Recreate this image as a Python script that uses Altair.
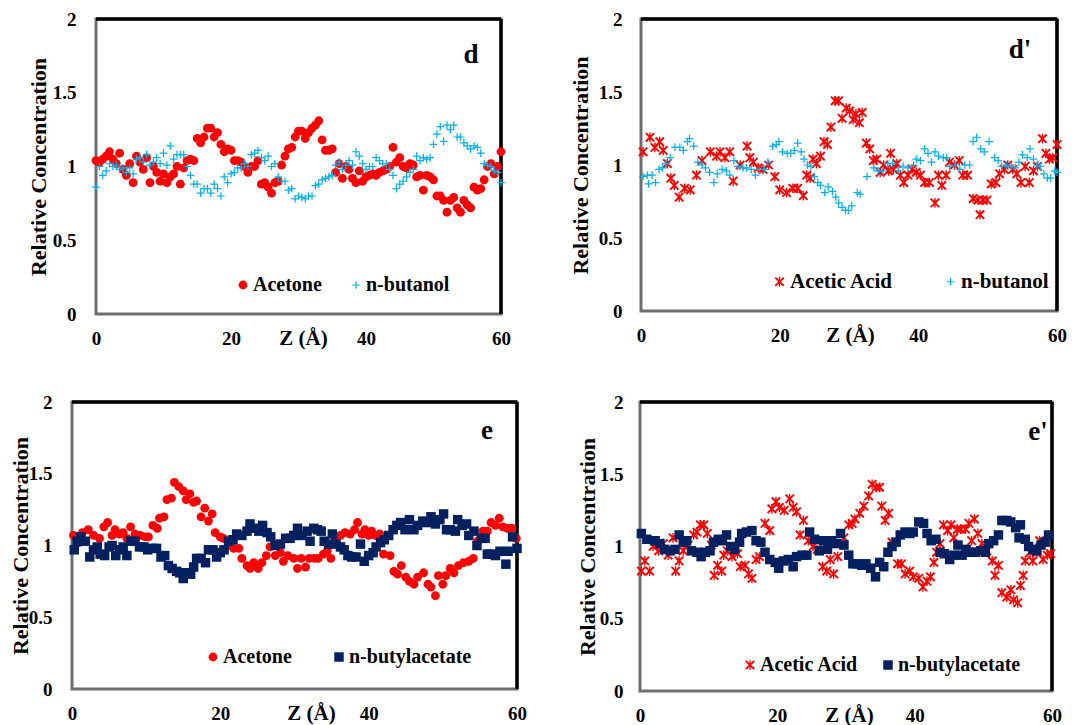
import altair as alt
import pandas as pd

FONT = "Liberation Serif"
RED = "#FF0000"
BLUE = "#00B0F0"
NAVY = "#002060"

PLUS = ("M-0.16,-1L0.16,-1L0.16,-0.16L1,-0.16L1,0.16L0.16,0.16L0.16,1L-0.16,1"
        "L-0.16,0.16L-1,0.16L-1,-0.16L-0.16,-0.16Z")
STAR = ("M-1,-0.72L-0.72,-1L0,-0.28L0.72,-1L1,-0.72L0.28,0L1,0.72L0.72,1L0,0.28"
        "L-0.72,1L-1,0.72L-0.28,0Z M-0.14,-1L0.14,-1L0.14,1L-0.14,1Z")

# ---------------- panel d : Acetone / n-butanol ----------------
d_z = [i * 0.5 for i in range(121)]
d_acetone = [
    1.04, 1.03, 1.05, 1.07, 1.10, 1.05, 1.02, 1.09, 0.98, 0.94,
    1.02, 0.89, 1.07, 1.03, 0.98, 1.06, 0.89, 1.00, 0.96, 0.90,
    0.95, 0.89, 0.93, 0.95, 1.00, 0.88, 0.99, 1.04, 1.05, 1.04,
    1.19, 1.16, 1.20, 1.26, 1.26, 1.20, 1.23, 1.15, 1.10, 1.12,
    1.11, 1.04, 1.04, 1.03, 1.00, 0.96, 1.00, 1.00, 1.04, 0.88,
    0.89, 0.86, 0.82, 0.89, 0.90, 1.01, 1.07, 1.12, 1.13, 1.20,
    1.24, 1.24, 1.19, 1.23, 1.26, 1.28, 1.31, 1.18, 1.11, 1.11,
    1.12, 0.96, 1.02, 0.92, 1.00, 0.98, 0.92, 0.89, 0.97, 0.90,
    0.93, 0.94, 0.95, 0.94, 0.96, 0.97, 0.98, 1.00, 1.13, 1.03,
    1.06, 1.00, 0.99, 1.02, 1.01, 0.93, 0.94, 0.84, 0.94, 0.93,
    0.91, 0.80, 0.80, 0.77, 0.69, 0.77, 0.79, 0.72, 0.69, 0.77,
    0.74, 0.72, 0.86, 0.84, 0.85, 0.91, 1.00, 1.02, 0.95, 1.00,
    1.10]
d_butanol = [
    0.86, 1.00, 0.94, 0.97, 1.02, 1.00, 1.01, 0.98, 0.99, 0.96,
    0.99, 0.95, 1.05, 1.06, 1.03, 1.08, 1.01, 1.03, 1.06, 1.02,
    1.09, 1.01, 1.14, 1.05, 1.08, 1.08, 1.08, 1.00, 0.94, 0.88,
    0.88, 0.82, 0.85, 0.85, 0.82, 0.88, 0.85, 0.80, 0.93, 0.89,
    0.95, 0.96, 0.99, 0.99, 1.02, 1.00, 1.08, 1.09, 1.11, 1.06,
    1.04, 1.07, 1.00, 1.02, 0.93, 0.90, 0.90, 0.84, 0.85, 0.78,
    0.80, 0.79, 0.78, 0.80, 0.80, 0.87, 0.88, 0.91, 0.92, 0.93,
    0.94, 1.01, 1.03, 0.98, 1.01, 1.04, 1.01, 1.10, 1.07, 1.02,
    0.98, 1.00, 1.00, 1.06, 1.04, 1.02, 1.02, 0.98, 0.94, 0.85,
    0.88, 0.90, 0.93, 0.96, 0.98, 1.07, 1.04, 1.06, 1.05, 1.06,
    1.15, 1.22, 1.27, 1.17, 1.28, 1.25, 1.28, 1.20, 1.20, 1.16,
    1.14, 1.12, 1.14, 1.13, 1.09, 1.02, 1.01, 1.00, 0.97, 0.96,
    0.89]

# ---------------- panel d' : Acetic Acid / n-butanol ----------------
dp_acid_z = [
    0.3, 1.3, 2.0, 2.7, 3.2, 3.8, 4.3, 4.8, 5.5, 6.3,
    7.1, 8.0, 8.8, 10.0, 10.9, 11.4, 12.1, 12.8, 13.3, 14.3,
    15.3, 15.7, 16.2, 16.9, 17.6, 18.4, 19.3, 20.0, 21.0, 21.9,
    22.6, 23.4, 23.9, 24.4, 24.8, 25.3, 25.9, 26.4, 26.9, 27.4,
    28.0, 28.5, 29.0, 29.6, 30.1, 30.6, 31.0, 31.5, 31.9, 32.5,
    33.0, 33.5, 34.0, 34.5, 35.0, 35.7, 36.0, 36.4, 36.9, 37.4,
    37.9, 38.5, 39.1, 39.7, 40.3, 40.9, 41.6, 42.4, 42.9, 43.4,
    44.0, 44.5, 45.2, 45.9, 46.4, 47.1, 47.9, 48.6, 48.9, 49.3,
    49.9, 50.5, 51.2, 51.7, 52.4, 52.9, 53.6, 54.2, 54.8, 55.4,
    56.0, 56.6, 57.2, 57.9, 58.4, 58.9, 59.4, 60.0]
dp_acid = [
    1.09, 1.19, 1.12, 1.16, 1.10, 1.01, 0.91, 0.86, 0.78, 0.84,
    0.83, 0.93, 1.03, 1.09, 1.06, 1.09, 1.05, 1.09, 0.89, 1.00,
    1.13, 1.05, 1.02, 0.98, 0.97, 1.00, 0.92, 0.83, 0.81, 0.84,
    0.84, 0.79, 0.93, 0.91, 1.04, 1.01, 1.06, 1.16, 1.14, 1.26,
    1.44, 1.44, 1.32, 1.39, 1.37, 1.31, 1.35, 1.29, 1.36, 1.15,
    1.11, 1.03, 1.04, 0.95, 1.00, 0.96, 1.08, 0.97, 1.01, 0.93,
    0.88, 0.93, 0.97, 0.95, 0.93, 0.88, 0.88, 0.74, 0.93, 0.86,
    0.93, 1.02, 1.00, 1.03, 0.93, 0.93, 0.77, 0.76, 0.66, 0.76,
    0.76, 0.87, 0.88, 0.94, 0.97, 1.00, 0.97, 0.94, 0.88, 0.99,
    0.88, 0.96, 0.99, 1.18, 1.08, 1.04, 1.05, 1.14]
dp_butanol_z = [
    0.3, 0.9, 1.1, 1.6, 2.1, 2.6, 3.1, 3.6, 4.2, 4.9,
    5.6, 6.1, 6.7, 7.0, 7.6, 8.2, 8.8, 9.3, 9.9, 10.5,
    11.0, 11.7, 12.3, 12.8, 13.4, 14.0, 14.7, 15.2, 15.9, 16.5,
    17.1, 17.8, 18.3, 19.0, 19.5, 19.9, 20.4, 21.1, 21.6, 22.1,
    22.6, 23.1, 23.5, 24.0, 24.5, 25.0, 25.5, 25.9, 26.5, 27.0,
    27.6, 28.1, 28.5, 29.0, 29.5, 29.9, 30.4, 31.2, 31.6, 32.6,
    33.6, 34.2, 34.9, 35.6, 36.3, 37.1, 37.8, 38.5, 39.3, 39.7,
    40.3, 40.9, 41.4, 41.9, 42.4, 42.9, 43.6, 44.1, 44.5, 45.3,
    46.0, 46.7, 47.4, 47.9, 48.4, 49.0, 49.5, 50.2, 51.0, 51.5,
    52.0, 52.7, 53.4, 54.0, 54.5, 55.0, 55.7, 56.1, 56.6, 57.1,
    57.6, 58.1, 58.6, 59.1, 59.7, 60.0]
dp_butanol = [
    0.92, 0.93, 0.87, 0.93, 0.88, 0.97, 0.98, 1.01, 1.05, 1.12,
    1.12, 1.10, 1.16, 1.18, 1.13, 1.02, 1.00, 0.98, 0.95, 0.88,
    0.94, 0.97, 0.96, 0.93, 1.03, 0.99, 0.98, 0.98, 0.97, 0.93,
    0.97, 0.97, 1.02, 1.13, 1.14, 1.16, 1.09, 1.08, 1.08, 1.10,
    1.15, 1.09, 1.04, 1.00, 0.99, 0.92, 0.88, 0.86, 0.81, 0.85,
    0.82, 0.78, 0.74, 0.71, 0.69, 0.69, 0.72, 0.81, 0.80, 0.92,
    0.98, 0.96, 0.96, 1.01, 1.01, 0.96, 0.99, 0.98, 1.00, 1.04,
    1.03, 1.11, 1.08, 1.02, 1.09, 1.06, 1.05, 1.05, 0.99, 1.00,
    0.97, 1.00, 1.00, 1.16, 1.19, 1.11, 1.09, 1.16, 1.05, 1.03,
    0.99, 1.00, 0.99, 0.98, 1.02, 1.07, 1.05, 1.11, 1.04, 1.00,
    0.99, 0.94, 0.91, 0.91, 0.96, 0.95]

# ---------------- panel e : Acetone / n-butylacetate ----------------
e_acetone_z = [
    0.2, 0.9, 1.4, 2.2, 2.9, 3.7, 4.3, 4.8, 5.4, 5.8,
    6.4, 6.9, 7.4, 7.9, 8.5, 9.2, 9.9, 10.3, 10.9, 11.5,
    11.8, 12.4, 12.8, 13.4, 13.8, 14.4, 15.0, 15.4, 15.9, 16.4,
    16.8, 17.4, 17.9, 18.4, 18.9, 19.3, 20.0, 20.4, 21.1, 21.8,
    22.5, 22.9, 23.6, 24.0, 24.5, 25.1, 25.6, 26.2, 26.7, 27.4,
    28.1, 28.5, 29.1, 29.9, 30.4, 30.9, 31.5, 32.0, 32.7, 33.2,
    33.9, 34.4, 34.9, 35.5, 36.2, 36.8, 37.5, 38.1, 38.5, 39.1,
    39.5, 40.0, 40.4, 40.9, 41.5, 42.0, 42.9, 43.4, 43.9, 44.4,
    45.0, 45.5, 46.1, 46.6, 47.4, 48.0, 48.4, 49.0, 49.4, 50.0,
    50.4, 51.0, 51.5, 52.1, 52.8, 53.5, 54.1, 54.7, 55.4, 56.0,
    56.5, 57.1, 57.6, 58.1, 58.7, 59.3, 59.9]
e_acetone = [
    1.07, 1.02, 1.09, 1.11, 1.07, 1.05, 1.13, 1.16, 1.07, 1.11,
    1.08, 1.09, 1.05, 1.13, 1.08, 1.07, 1.06, 1.06, 1.14, 1.12,
    1.19, 1.20, 1.32, 1.33, 1.44, 1.41, 1.38, 1.32, 1.36, 1.30,
    1.31, 1.20, 1.26, 1.17, 1.22, 1.09, 1.06, 1.05, 1.00, 0.98,
    0.98, 0.91, 0.86, 0.84, 0.88, 0.84, 0.88, 0.93, 0.99, 0.93,
    0.95, 0.89, 0.93, 0.91, 0.84, 0.91, 0.85, 0.91, 0.91, 0.91,
    0.94, 0.96, 0.91, 1.05, 1.07, 1.09, 1.08, 1.11, 1.16, 1.08,
    1.11, 1.07, 1.10, 1.07, 1.08, 0.94, 0.93, 0.82, 0.80, 0.86,
    0.78, 0.75, 0.73, 0.78, 0.81, 0.73, 0.71, 0.65, 0.79, 0.73,
    0.79, 0.84, 0.81, 0.86, 0.88, 0.89, 0.91, 1.03, 1.10, 1.10,
    1.16, 1.14, 1.19, 1.13, 1.12, 1.12, 1.05]
e_bac_z = [
    0.3, 0.7, 1.2, 1.8, 2.4, 2.9, 3.4, 3.8, 4.4, 5.0,
    5.4, 5.9, 6.4, 6.9, 7.4, 7.9, 8.5, 9.1, 9.7, 10.2,
    10.8, 11.4, 12.0, 12.5, 13.0, 13.5, 14.1, 14.5, 15.0, 15.4,
    16.0, 16.4, 16.8, 17.4, 18.0, 18.4, 19.0, 19.5, 20.0, 20.5,
    21.1, 21.7, 22.2, 22.9, 23.6, 24.0, 24.5, 25.2, 25.7, 26.3,
    26.8, 27.4, 28.1, 28.8, 29.4, 29.9, 30.4, 31.0, 31.7, 32.1,
    32.6, 33.1, 33.6, 34.0, 34.6, 35.1, 35.6, 36.2, 36.7, 37.2,
    37.7, 38.3, 38.9, 39.4, 40.0, 40.6, 41.0, 41.6, 42.1, 42.7,
    43.3, 43.8, 44.3, 44.9, 45.5, 46.1, 46.6, 47.3, 47.8, 48.4,
    49.0, 49.6, 50.1, 50.5, 51.0, 51.7, 52.0, 52.6, 53.2, 53.5,
    54.2, 54.6, 55.2, 55.7, 56.0, 56.5, 57.1, 57.7, 58.5, 58.8,
    59.4, 60.0]
e_bac = [
    0.97, 1.03, 1.06, 1.03, 0.92, 0.97, 0.99, 0.94, 0.93, 0.99,
    1.00, 0.93, 0.97, 0.99, 0.93, 1.03, 1.03, 0.99, 0.99, 0.97,
    0.98, 0.98, 0.92, 0.93, 0.86, 0.84, 0.82, 0.81, 0.77, 0.81,
    0.80, 0.85, 0.91, 0.91, 0.88, 0.97, 0.97, 0.92, 0.95, 0.97,
    1.03, 1.04, 1.08, 1.07, 1.10, 1.15, 1.12, 1.10, 1.14, 1.09,
    1.06, 1.00, 1.01, 1.05, 1.05, 1.07, 1.12, 1.07, 1.10, 1.03,
    1.12, 1.11, 1.10, 1.03, 1.01, 1.08, 1.01, 0.99, 0.97, 0.93,
    0.92, 0.92, 1.01, 0.89, 0.93, 0.95, 0.99, 1.02, 1.04, 1.07,
    1.11, 1.14, 1.16, 1.11, 1.18, 1.11, 1.14, 1.17, 1.16, 1.20,
    1.15, 1.18, 1.22, 1.11, 1.11, 1.10, 1.18, 1.14, 1.15, 1.07,
    1.10, 1.00, 1.05, 1.05, 0.94, 0.94, 0.93, 0.96, 0.87, 0.96,
    1.06, 0.98]

# ---------------- panel e' : Acetic Acid / n-butylacetate ----------------
ep_acid_z = [
    0.2, 0.7, 1.4, 1.9, 2.7, 3.4, 4.1, 4.8, 5.2, 5.7,
    6.3, 7.0, 7.8, 8.3, 8.8, 9.3, 9.8, 10.4, 10.8, 11.3,
    11.9, 12.2, 12.7, 13.4, 14.2, 14.6, 15.3, 15.8, 16.3, 16.9,
    17.4, 18.2, 18.9, 19.2, 19.8, 20.3, 21.0, 21.8, 22.3, 22.8,
    23.3, 23.8, 24.5, 25.2, 25.8, 26.6, 27.2, 27.7, 28.2, 28.8,
    29.7, 30.4, 30.9, 31.3, 32.0, 32.6, 33.3, 33.8, 34.4, 34.9,
    35.2, 35.7, 36.2, 36.7, 37.5, 38.1, 38.6, 39.3, 39.8, 40.6,
    41.2, 41.8, 42.3, 42.8, 43.2, 43.7, 44.2, 44.8, 45.3, 45.7,
    46.2, 46.7, 47.4, 47.9, 48.3, 48.7, 49.2, 49.8, 50.5, 51.3,
    51.7, 52.2, 52.7, 53.4, 54.0, 54.4, 55.0, 55.4, 55.8, 56.1,
    56.8, 57.2, 57.8, 58.2, 58.7, 59.3, 59.8]
ep_acid = [
    0.83, 0.90, 0.83, 1.00, 0.97, 1.02, 0.94, 1.06, 0.83, 0.90,
    0.97, 1.01, 1.08, 1.10, 1.15, 1.15, 1.09, 1.01, 0.80, 0.87,
    0.83, 0.94, 0.97, 0.93, 0.95, 0.86, 0.87, 0.81, 0.78, 0.91,
    0.93, 1.16, 1.11, 1.26, 1.31, 1.27, 1.25, 1.33, 1.27, 1.24,
    1.08, 1.18, 1.04, 1.00, 0.98, 0.86, 0.83, 0.91, 0.81, 0.93,
    1.06, 1.15, 1.16, 1.19, 1.23, 1.28, 1.35, 1.43, 1.41, 1.41,
    1.28, 1.18, 1.23, 1.03, 0.88, 0.88, 0.81, 0.83, 0.79, 0.78,
    0.72, 0.76, 0.79, 0.89, 0.96, 1.02, 1.15, 1.11, 1.15, 1.06,
    1.12, 1.12, 1.12, 1.16, 1.04, 1.19, 1.09, 1.02, 0.97, 0.90,
    0.80, 0.87, 0.68, 0.65, 0.70, 0.63, 0.61, 0.73, 0.80, 0.90,
    0.96, 0.90, 0.96, 1.04, 0.91, 0.94, 0.95]
ep_bac_z = [
    0.2, 1.0, 2.2, 2.9, 3.6, 4.4, 5.1, 5.7, 6.3, 6.8,
    7.5, 8.3, 8.9, 9.5, 10.2, 10.7, 11.4, 12.0, 12.6, 13.2,
    13.8, 14.5, 14.8, 15.5, 16.3, 16.9, 17.6, 18.2, 18.9, 19.7,
    20.2, 20.9, 21.6, 22.3, 22.8, 23.6, 24.3, 24.7, 25.4, 26.1,
    26.7, 27.3, 27.9, 28.6, 29.2, 29.7, 30.4, 31.0, 31.7, 32.3,
    32.9, 33.6, 34.3, 34.9, 35.5, 36.1, 36.7, 37.3, 37.9, 38.6,
    39.3, 39.8, 40.6, 41.3, 41.8, 42.4, 43.1, 43.7, 44.3, 45.1,
    45.7, 46.3, 46.9, 47.5, 48.1, 48.8, 49.6, 50.3, 50.8, 51.5,
    52.2, 52.7, 53.4, 54.0, 54.7, 55.2, 55.4, 56.1, 56.6, 57.2,
    57.8, 58.4, 59.0, 59.5]
ep_bac = [
    1.09, 1.05, 1.04, 1.02, 0.98, 0.97, 0.98, 1.08, 1.03, 1.04,
    0.97, 0.96, 0.93, 0.96, 0.97, 1.03, 1.05, 1.04, 1.08, 1.00,
    0.98, 1.03, 1.09, 1.10, 1.11, 1.04, 1.03, 0.96, 0.91, 0.89,
    0.85, 0.90, 0.91, 0.86, 0.93, 0.94, 0.94, 1.10, 1.05, 0.97,
    1.04, 0.98, 1.04, 1.02, 1.09, 1.01, 0.94, 0.88, 0.88, 0.87,
    0.88, 0.85, 0.79, 0.89, 0.86, 0.96, 1.00, 1.03, 1.08, 1.10,
    1.09, 1.10, 1.17, 1.16, 1.09, 1.04, 1.05, 0.96, 0.95, 0.91,
    0.94, 1.01, 0.94, 0.98, 0.96, 0.96, 0.97, 0.96, 1.02, 1.04,
    1.08, 1.18, 1.18, 1.17, 1.13, 1.06, 1.15, 1.05, 1.00, 0.98,
    0.97, 1.01, 1.03, 1.08]

X_TICKS = [0, 20, 40, 60]
Y_TICKS = [0, 0.5, 1, 1.5, 2]
X_DOMAIN = [0, 60]
Y_DOMAIN = [0, 2]


def panel(letter, s1, s2, vw, vh, xr, yr, yoff, xoff, ylab_pad, ytitle_x,
          ztitle_x, leg_x, leg_y, leg_pad, leg_fs, let_x, let_y):
    n1, z1, v1, c1, sh1, sz1 = s1
    n2, z2, v2, c2, sh2, sz2 = s2
    df = pd.DataFrame({
        "z": list(z1) + list(z2),
        "c": list(v1) + list(v2),
        "s": [n1] * len(z1) + [n2] * len(z2),
        "o": list(range(len(z1) + len(z2))),
    })
    dom = [n1, n2]
    leg = alt.Legend(
        orient="none", legendX=leg_x, legendY=leg_y, direction="horizontal",
        title=None, labelFont=FONT, labelFontSize=leg_fs, labelFontWeight="bold",
        labelColor="black", labelOffset=0, columnPadding=leg_pad, padding=0,
        symbolStrokeWidth=0, labelLimit=400,
    )
    xaxis = alt.Axis(
        values=X_TICKS, labelExpr="'' + datum.value", title="Z (Å)",
        titleX=ztitle_x, titleY=24, titleAlign="center", titleBaseline="middle",
        labelPadding=15, labelFlush=False, offset=xoff,
    )
    yaxis = alt.Axis(
        values=Y_TICKS, labelExpr="'' + datum.value", title="Relative Concentration",
        titleX=ytitle_x, titleY=(yr[0] + yr[1]) / 2, titleAlign="center",
        titleBaseline="middle", labelPadding=ylab_pad, offset=yoff,
    )
    xs = alt.Scale(domain=X_DOMAIN, range=xr, nice=False, zero=False)
    ys = alt.Scale(domain=Y_DOMAIN, range=yr, nice=False)
    one = pd.DataFrame({"f": [0]})
    # plot-area border: grey left/bottom, heavier black top/right (as in the figure)
    frame = alt.Chart(one).mark_rect(
        filled=False, stroke="#6e6e6e", strokeWidth=3
    ).encode(
        x=alt.datum(X_DOMAIN[0], scale=xs, axis=xaxis, type="quantitative"),
        x2=alt.datum(X_DOMAIN[1]),
        y=alt.datum(Y_DOMAIN[0], scale=ys, axis=yaxis, type="quantitative"),
        y2=alt.datum(Y_DOMAIN[1]),
    )
    top_edge = alt.Chart(one).mark_rule(color="black", strokeWidth=3.5).encode(
        x=alt.datum(X_DOMAIN[0], type="quantitative"), x2=alt.datum(X_DOMAIN[1]),
        y=alt.datum(Y_DOMAIN[1], type="quantitative"),
    )
    right_edge = alt.Chart(one).mark_rule(color="black", strokeWidth=3.5).encode(
        x=alt.datum(X_DOMAIN[1], type="quantitative"),
        y=alt.datum(Y_DOMAIN[0], type="quantitative"), y2=alt.datum(Y_DOMAIN[1]),
    )
    pts = alt.Chart(df).mark_point(filled=True, opacity=1).encode(
        x=alt.X("z:Q", scale=xs, axis=xaxis),
        y=alt.Y("c:Q", scale=ys, axis=yaxis),
        color=alt.Color("s:N", scale=alt.Scale(domain=dom, range=[c1, c2]), legend=leg),
        shape=alt.Shape("s:N", scale=alt.Scale(domain=dom, range=[sh1, sh2]), legend=leg),
        size=alt.Size("s:N", scale=alt.Scale(domain=dom, range=[sz1, sz2]), legend=leg),
        order=alt.Order("o:Q"),
    )
    lab = alt.Chart(pd.DataFrame({"t": [letter]})).mark_text(
        font=FONT, fontSize=27, fontWeight="bold", color="black",
        align="center", baseline="alphabetic",
    ).encode(text="t:N", x=alt.value(let_x), y=alt.value(let_y))
    return alt.layer(frame, top_edge, right_edge, pts, lab).properties(width=vw, height=vh)


# column 1 view spans x 72..517, column 2 spans 640..1057
# row 1 view spans y 20..315, row 2 spans 403..692
d = panel("d",
          ("Acetone", d_z, d_acetone, RED, "circle", 78),
          ("n-butanol", d_z, d_butanol, BLUE, PLUS, 60),
          445, 295, [24, 429], [295, 0], -24, 0, 20, -58, 231,
          161, 256, 24, 20, 399, 44)
dp = panel("d'",
           ("Acetic Acid", dp_acid_z, dp_acid, RED, STAR, 95),
           ("n-butanol", dp_butanol_z, dp_butanol, BLUE, PLUS, 60),
           417, 295, [1, 417], [292, 0], -1, -3, 19, -61, 210,
           129, 252, 46, 21, 380, 39)
e = panel("e",
          ("Acetone", e_acetone_z, e_acetone, RED, "circle", 78),
          ("n-butylacetate", e_bac_z, e_bac, NAVY, "square", 90),
          445, 289, [0, 445], [287, 0], 0, -2, 20, -52, 239,
          131, 245, 37, 20, 415, 37)
ep = panel("e'",
           ("Acetic Acid", ep_acid_z, ep_acid, RED, STAR, 95),
           ("n-butylacetate", ep_bac_z, ep_bac, NAVY, "square", 90),
           417, 289, [0, 412], [289, 0], 0, 0, 17, -53, 209,
           100, 253, 19, 20, 398, 38)

chart = alt.concat(
    d, dp, e, ep, columns=2, bounds="flush",
    spacing=alt.RowColnumber(row=88, column=123),
).resolve_scale(
    color="independent", shape="independent", size="independent"
).resolve_legend(
    color="independent", shape="independent", size="independent"
).properties(
    padding={"left": 9, "top": 10, "right": 5, "bottom": 0}
).configure_view(
    strokeOpacity=0
).configure_axis(
    labelFont=FONT, labelFontSize=19, labelFontWeight="bold", labelColor="black",
    titleFont=FONT, titleFontWeight="bold", titleColor="black",
    ticks=False, tickSize=0, domain=False, grid=False,
).configure_axisX(
    titleFontSize=21
).configure_axisY(
    titleFontSize=22
)

chart.save("out.html", embed_options={"renderer": "svg", "actions": False})
